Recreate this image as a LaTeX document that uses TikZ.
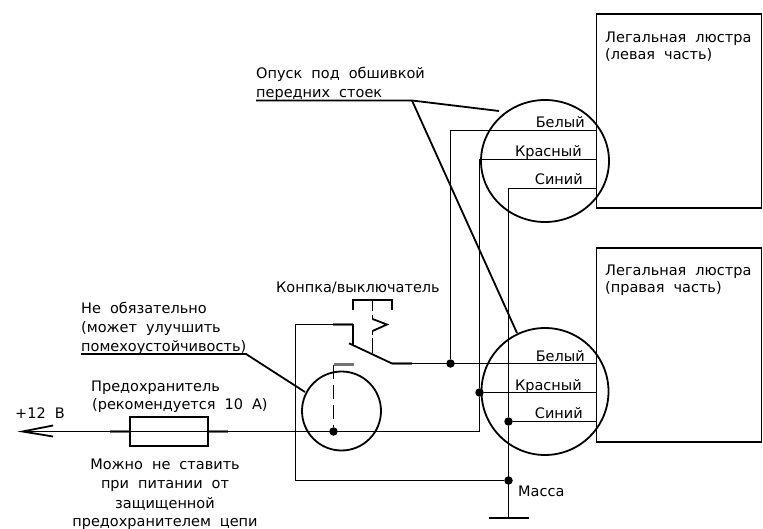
\documentclass[tikz,border=0pt]{standalone}
\usepackage{fontspec}
\usetikzlibrary{shapes.geometric}
\setmainfont{DejaVu Sans}
\newcommand{\notefont}{\fontsize{14.5}{16}\selectfont\spaceskip=9pt\relax}

\begin{document}
\begin{tikzpicture}[x=1pt,y=-1pt]
   \tikzstyle{every node}=[font=\notefont,inner sep=0pt]
   \tikzstyle{label}=[anchor=base west]
   \tikzstyle{wirelabel}=[anchor=base east]
   \tikzstyle{centerlabel}=[anchor=base]
   \tikzstyle{wire}=[line width=1.2pt]
   \tikzstyle{stub}=[line width=2.4pt,black!55]
   \tikzstyle{heavy}=[line width=1.8pt]
   \tikzstyle{junction}=[circle,fill=black,minimum size=8.5pt]

   \useasboundingbox (0,0) rectangle (763,529);

   % lamps
   \node (lampL) [draw,heavy,minimum width=165pt,minimum height=194pt,anchor=north west] at (595.5,13.5) {};
   \node (lampR) [draw,heavy,minimum width=165pt,minimum height=194pt,anchor=north west] at (595.5,247) {};
   \node [label] at (605,42.5) {Легальная люстра};
   \node [label] at (605,60) {(левая часть)};
   \node [label] at (605,276) {Легальная люстра};
   \node [label] at (605,293) {(правая часть)};

   % connectors
   \node (plugL) [ellipse,draw,heavy,minimum width=128pt,minimum height=122pt] at (545,161) {};
   \node (plugR) [circle,draw,heavy,minimum size=127pt] at (545,391.5) {};
   \node (relay) [circle,draw,heavy,minimum size=79pt] at (341.5,411) {};

   % junctions
   \node (jWhite) [junction] at (450.5,363.5) {};
   \node (jRed) [junction] at (479.5,392.5) {};
   \node (jBlue) [junction] at (508.5,421.5) {};
   \node (jMass) [junction] at (508.5,480.5) {};
   \node (jRelay) [junction] at (333.5,431.5) {};

   % left connector wires
   \coordinate (whiteL) at (595.5,130.5);
   \coordinate (redL) at (595.5,159.5);
   \coordinate (blueL) at (595.5,188.5);
   \draw [wire] (whiteL) -| (jWhite);
   \draw [wire] (redL) -| (jRed);
   \draw [wire] (blueL) -| (jBlue);

   % right connector wires
   \coordinate (whiteR) at (595.5,363.5);
   \coordinate (redR) at (595.5,392.5);
   \coordinate (blueR) at (595.5,421.5);
   \coordinate (contactR) at (392,363.5);
   \draw [stub] (contactR) -- ++(20,0);
   \draw [wire] (contactR) -- (whiteR);
   \draw [wire] (jRed) -- (redR);
   \draw [wire] (jBlue) -- (blueR);

   % ground
   \coordinate (earth) at (508.5,518);
   \draw [wire] (jBlue) -- (earth);
   \draw [line width=2.2pt] (earth) ++(-20,0) -- ++(40,0);

   % supply line and fuse
   \coordinate (tip) at (22.5,431.5);
   \coordinate (feed) at (479.5,431.5);
   \node (fuse) [draw,heavy,minimum width=78pt,minimum height=29pt] at (169,431.5) {};
   \draw [stub] (110,431.5) -- (fuse.west);
   \draw [stub] (fuse.east) -- (228,431.5);
   \draw [wire] (tip) -- (feed) -- (jRed);
   \draw [heavy] (53,425.5) -- (tip) -- (53,436.5);

   % switch
   \coordinate (swFix) at (353,324.5);
   \coordinate (swTick) at (349,343.3);
   \coordinate (swHinge) at (353,345);
   \coordinate (relayFix) at (333.5,364.5);
   \draw [stub] (333,324.5) -- (swFix);
   \draw [wire] (jMass) -| (295.5,324.5) -- (swFix);
   \draw [heavy] (swFix) -- (swHinge);
   \draw [heavy] (swTick) -- (contactR);
   \draw [heavy] (353,310) -- (353,300) -- (392,300) -- (392,310);
   \draw [heavy] (372.5,319) -- (387,324.5) -- (372.5,331);
   \draw [wire] (372.5,300) -- (372.5,311);
   \draw [wire] (372.5,315) -- (372.5,319);
   \draw [wire] (372.5,331) -- (372.5,334.5);
   \draw [wire] (372.5,338) -- (372.5,353);
   \draw [stub] (354,364.5) -- (relayFix);
   \draw [wire,dash pattern=on 14pt off 6pt] (relayFix) -- (jRelay);

   % leaders
   \coordinate (noteA) at (256,100.5);
   \coordinate (noteB) at (412,100.5);
   \coordinate (noteC) at (81,354);
   \coordinate (noteD) at (246,354);
   \draw [heavy] (noteA) -- (noteB) -- (499,111);
   \draw [heavy] (noteB) -- (517,333);
   \draw [heavy] (noteC) -- (noteD) -- (305,392);

   % wire names
   \node [wirelabel] at (585,128) {Белый};
   \node [wirelabel] at (582,157) {Красный};
   \node [wirelabel] at (583,185) {Синий};
   \node [wirelabel] at (585,361) {Белый};
   \node [wirelabel] at (582,390) {Красный};
   \node [wirelabel] at (583,418) {Синий};
   \node [label] at (518,496) {Масса};

   % notes
   \node [label] at (256,79) {Опуск под обшивкой};
   \node [label] at (256,98) {передних стоек};
   \node [label] at (276,293) {Конпка/выключатель};
   \node [label] at (81,313) {Не обязательно};
   \node [label] at (81,332) {(может улучшить};
   \node [label] at (81,351) {помехоустойчивость)};
   \node [label] at (91,391) {Предохранитель};
   \node [label] at (92,409) {(рекомендуется 10 А)};
   \node [label] at (15,418) {+12 В};
   \node [centerlabel] at (165,469) {Можно не ставить};
   \node [centerlabel] at (165,488) {при питании от};
   \node [centerlabel] at (165,508) {защищенной};
   \node [centerlabel] at (165,526) {предохранителем цепи};
\end{tikzpicture}
\end{document}
